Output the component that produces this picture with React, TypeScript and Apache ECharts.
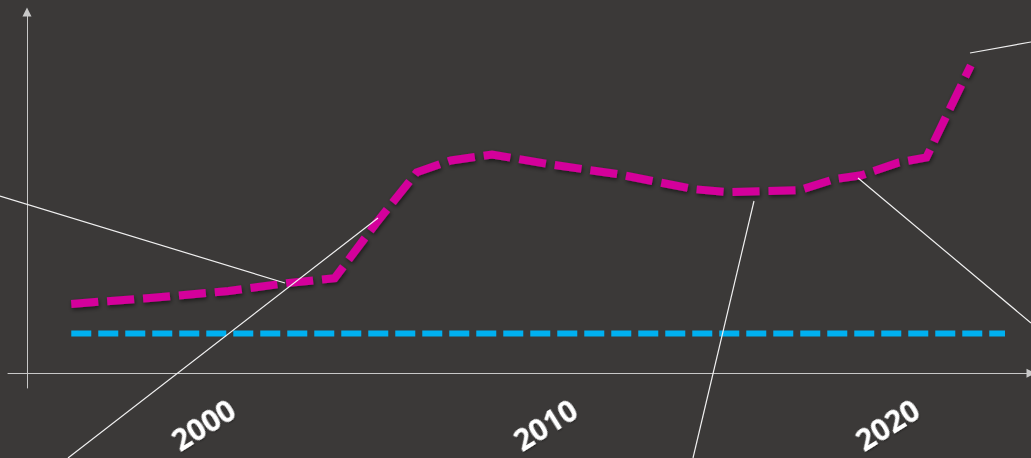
import React, { useEffect, useRef } from "react";
import * as echarts from "echarts";

// Years (x) and index values (y) for the rising series
const riseYears = [1995.3, 1997.6, 1999.9, 2001.6, 2003.0, 2004.2, 2005.4, 2006.4, 2007.6, 2009.3, 2011.3, 2013.5, 2014.5, 2016.6, 2017.6, 2018.4, 2019.5, 2020.3, 2021.6];
const riseValues = [70, 76, 83, 91, 96, 151, 203, 215, 221, 211, 201, 186, 183, 185, 196, 200, 213, 218, 311];

// Flat reference level
const baseYears = [1995.3, 2022.6];
const baseValues = [40, 40];

// Labelled years on the horizontal axis
const yearTicks = [2000, 2010, 2020];

const X_MIN = 1993.45;
const X_MAX = 2023.36;
const Y_MIN = -15;
const Y_MAX = 365;

export default function App() {
  const ref = useRef<HTMLDivElement>(null);

  useEffect(() => {
    if (!ref.current) return;
    const chart = echarts.init(ref.current, undefined, { renderer: "svg" });

    const leader = (x1: number, y1: number, x2: number, y2: number) => ({
      type: "line",
      shape: { x1, y1, x2, y2 },
      style: { stroke: "#f0f0f0", lineWidth: 1.2 },
      z: 10,
    });

    chart.setOption({
      animation: false,
      backgroundColor: "#3b3938",
      grid: { left: 8, right: 0, top: 12, bottom: 70, outerBoundsMode: "none" },
      xAxis: {
        type: "value",
        min: X_MIN,
        max: X_MAX,
        splitLine: { show: false },
        axisTick: { show: false },
        axisLine: {
          show: true,
          onZero: true,
          symbol: ["none", "triangle"],
          symbolSize: [9, 9],
          lineStyle: { color: "#c8c8c8", width: 1 },
        },
        axisLabel: {
          customValues: yearTicks,
          formatter: (v: number) => String(v),
          rotate: 32,
          margin: 18,
          color: "#ffffff",
          fontFamily: "Open Sans",
          fontWeight: "bold",
          fontSize: 30,
          textShadowColor: "rgba(0,0,0,0.4)",
          textShadowBlur: 2,
          textShadowOffsetY: 1,
        },
      },
      yAxis: {
        type: "value",
        min: Y_MIN,
        max: Y_MAX,
        offset: -19,
        splitLine: { show: false },
        axisTick: { show: false },
        axisLabel: { show: false },
        axisLine: {
          show: true,
          onZero: false,
          symbol: ["none", "triangle"],
          symbolSize: [9, 9],
          lineStyle: { color: "#c8c8c8", width: 1 },
        },
      },
      series: [
        {
          type: "line",
          data: baseYears.map((x, i) => [x, baseValues[i]]),
          showSymbol: false,
          lineStyle: { color: "#00b0f0", width: 6, type: [20, 7], cap: "butt" },
          z: 3,
        },
        {
          type: "line",
          data: riseYears.map((x, i) => [x, riseValues[i]]),
          showSymbol: false,
          lineStyle: {
            color: "#d4009b",
            width: 8,
            type: [27, 9],
            cap: "butt",
            join: "miter",
            shadowColor: "rgba(0,0,0,0.55)",
            shadowBlur: 4,
            shadowOffsetX: 1,
            shadowOffsetY: 2,
          },
          z: 4,
        },
      ],
      graphic: [
        leader(0, 196, 285, 283),
        leader(68, 458, 378, 218),
        leader(754, 201, 693, 458),
        leader(858, 178, 1031, 323),
        leader(970, 53, 1031, 42),
      ],
    });

    return () => chart.dispose();
  }, []);

  return (
    <div
      ref={ref}
      style={{ position: "absolute", left: 0, top: 0, width: 1031, height: 458 }}
    />
  );
}
